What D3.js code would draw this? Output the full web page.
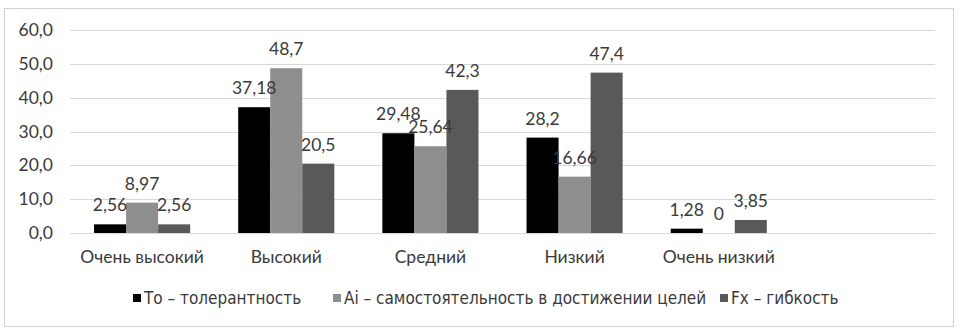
<!DOCTYPE html>
<html>
<head>
<meta charset="utf-8">
<script src="https://cdn.jsdelivr.net/npm/d3@7"></script>
<style>
  body { margin: 0; background: #fff; }
  svg { display: block; }
  text { font-family: Lato, "Open Sans", sans-serif; fill: #3a3a3a; }
  .legend text { font-family: "Liberation Sans Narrow", "DejaVu Sans Condensed", Lato, sans-serif; }
</style>
</head>
<body>
<svg id="chart"></svg>
<script>
// Data
const categories = ['Очень высокий', 'Высокий', 'Средний', 'Низкий', 'Очень низкий', ''];
const seriesNames = ['То – толерантность', 'Ai – самостоятельность в достижении целей', 'Fx – гибкость'];
const toValues = [2.56, 37.18, 29.48, 28.2, 1.28, null];
const aiValues = [8.97, 48.7, 25.64, 16.66, 0, null];
const fxValues = [2.56, 20.5, 42.3, 47.4, 3.85, null];
const yTicks = [0, 10, 20, 30, 40, 50, 60];

const colors = ['#000000', '#8e8e8e', '#595959'];
const seriesValues = [toValues, aiValues, fxValues];

const width = 962;
const height = 332;

const svg = d3.select('#chart')
    .attr('width', width)
    .attr('height', height);

// Chart border
svg.append('rect')
    .attr('x', 4.5)
    .attr('y', 8.5)
    .attr('width', 949)
    .attr('height', 318)
    .attr('fill', '#fff')
    .attr('stroke', '#d0d0d0');

// Scales
const x = d3.scaleBand()
    .domain(d3.range(categories.length))
    .range([70, 935])
    .paddingInner(1 / 3)
    .paddingOuter(1 / 6);

const xSub = d3.scaleBand()
    .domain(d3.range(seriesNames.length))
    .range([0, x.bandwidth()]);

const y = d3.scaleLinear()
    .domain([0, 60])
    .range([233, 30]);

const ruFormat = d3.formatLocale({ decimal: ',', thousands: ' ', grouping: [3], currency: ['', ''] });
const tickFmt = ruFormat.format('.1f');
const labelFmt = v => String(v).replace('.', ',');

// Gridlines
svg.append('g')
    .selectAll('line')
    .data(yTicks)
    .enter()
    .append('line')
    .attr('x1', 70)
    .attr('x2', 935)
    .attr('y1', d => Math.round(y(d)) + 0.5)
    .attr('y2', d => Math.round(y(d)) + 0.5)
    .attr('stroke', '#d9d9d9')
    .attr('stroke-width', 1);

// Y tick labels
svg.append('g')
    .selectAll('text')
    .data(yTicks)
    .enter()
    .append('text')
    .attr('x', 53)
    .attr('y', d => y(d))
    .attr('dy', '0.35em')
    .attr('text-anchor', 'end')
    .style('font-size', '17.5px')
    .text(d => tickFmt(d));

// Bars + labels
const bars = [];
seriesValues.forEach((vals, s) => {
    vals.forEach((v, i) => {
        if (v !== null) bars.push({ s, i, v });
    });
});

svg.append('g')
    .selectAll('rect')
    .data(bars)
    .enter()
    .append('rect')
    .attr('x', d => x(d.i) + xSub(d.s))
    .attr('y', d => y(d.v))
    .attr('width', xSub.bandwidth())
    .attr('height', d => y(0) - y(d.v))
    .attr('fill', d => colors[d.s]);

svg.append('g')
    .selectAll('text')
    .data(bars)
    .enter()
    .append('text')
    .attr('x', d => x(d.i) + xSub(d.s) + xSub.bandwidth() / 2)
    .attr('y', d => y(d.v) - 19)
    .attr('dy', '0.35em')
    .attr('text-anchor', 'middle')
    .style('font-size', '17.5px')
    .text(d => labelFmt(d.v));

// Category labels
svg.append('g')
    .selectAll('text')
    .data(categories)
    .enter()
    .append('text')
    .attr('x', (d, i) => x(i) + x.bandwidth() / 2)
    .attr('y', 257)
    .attr('dy', '0.35em')
    .attr('text-anchor', 'middle')
    .style('font-size', '17.5px')
    .text(d => d);

// Legend
const legendX = [133, 333, 720];
const legend = svg.append('g').attr('class', 'legend');

const items = legend.selectAll('g')
    .data(seriesNames)
    .enter()
    .append('g')
    .attr('transform', (d, i) => `translate(${legendX[i]},298)`);

items.append('rect')
    .attr('x', 0)
    .attr('y', -4)
    .attr('width', 8)
    .attr('height', 8)
    .attr('fill', (d, i) => colors[i]);

items.append('text')
    .attr('x', 11)
    .attr('y', 0)
    .attr('dy', '0.35em')
    .style('font-size', '17px')
    .text(d => d);
</script>
</body>
</html>
